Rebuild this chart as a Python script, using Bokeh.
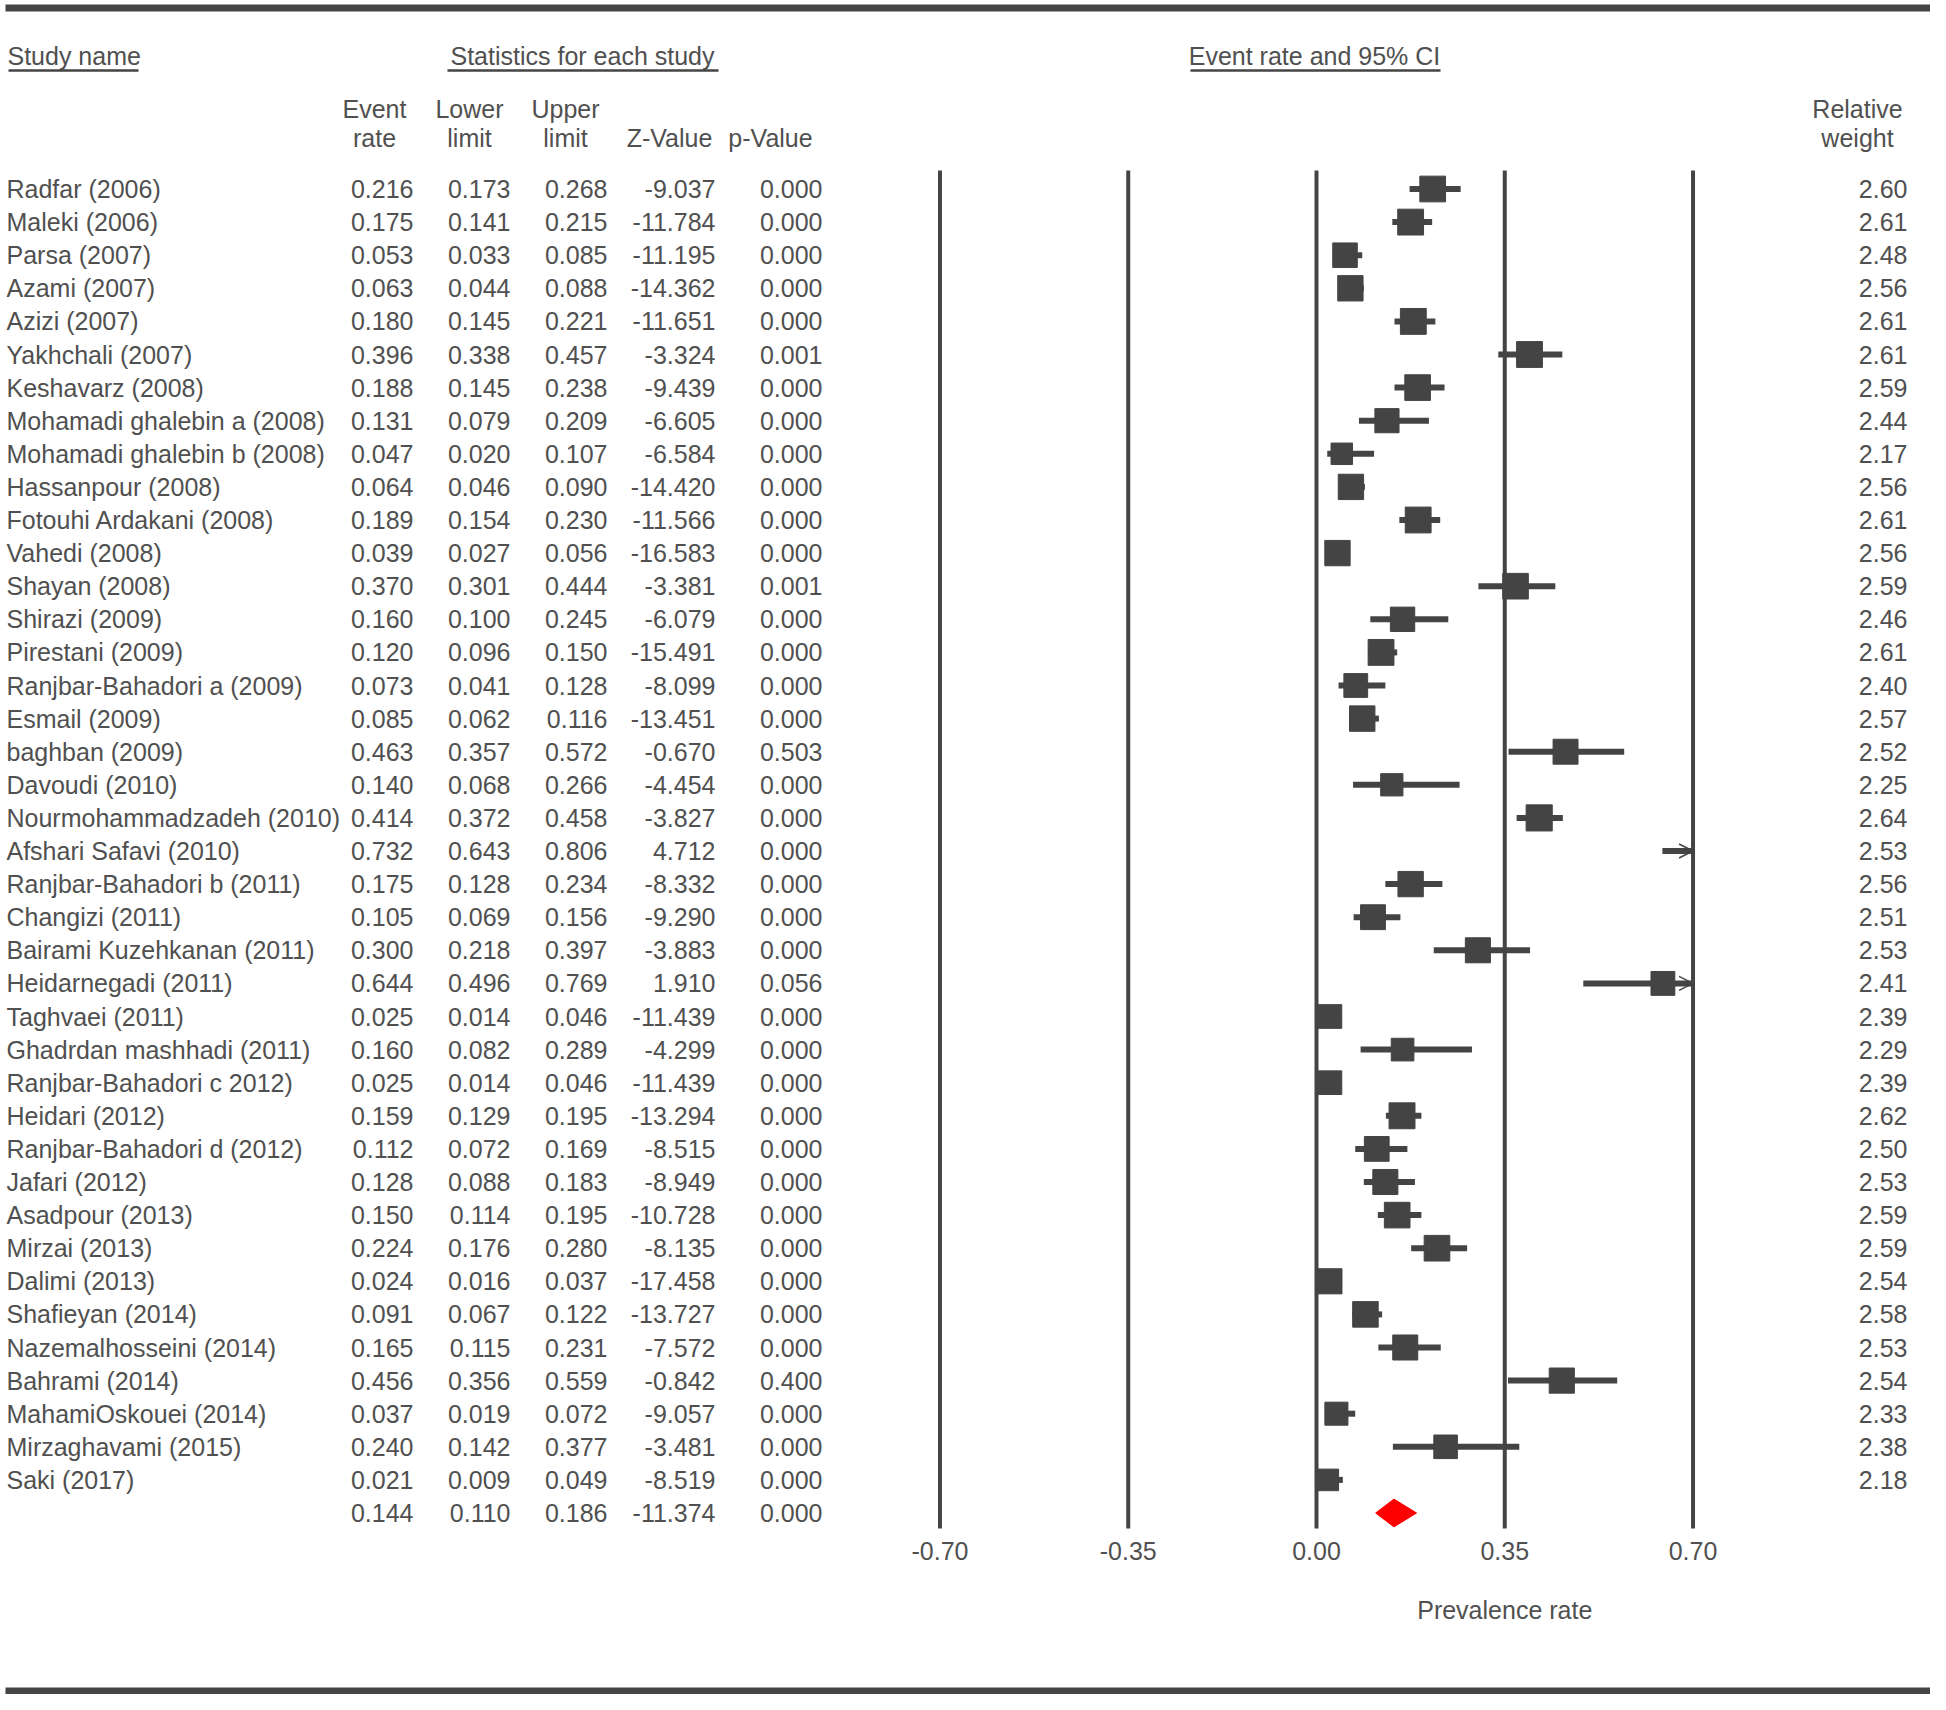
from bokeh.plotting import figure
from bokeh.models import Range1d, ColumnDataSource, Arrow, OpenHead
from bokeh.embed import file_html
from bokeh.resources import INLINE
from bokeh.core.properties import value

# ---------------- data ----------------
study_names = [
    "Radfar (2006)", "Maleki (2006)", "Parsa (2007)", "Azami (2007)", "Azizi (2007)",
    "Yakhchali (2007)", "Keshavarz (2008)", "Mohamadi ghalebin a (2008)",
    "Mohamadi ghalebin b (2008)", "Hassanpour (2008)", "Fotouhi Ardakani (2008)",
    "Vahedi (2008)", "Shayan (2008)", "Shirazi (2009)", "Pirestani (2009)",
    "Ranjbar-Bahadori a (2009)", "Esmail (2009)", "baghban (2009)", "Davoudi (2010)",
    "Nourmohammadzadeh (2010)", "Afshari Safavi (2010)", "Ranjbar-Bahadori b (2011)",
    "Changizi (2011)", "Bairami Kuzehkanan (2011)", "Heidarnegadi (2011)",
    "Taghvaei (2011)", "Ghadrdan mashhadi (2011)", "Ranjbar-Bahadori c 2012)",
    "Heidari (2012)", "Ranjbar-Bahadori d (2012)", "Jafari (2012)", "Asadpour (2013)",
    "Mirzai (2013)", "Dalimi (2013)", "Shafieyan (2014)", "Nazemalhosseini (2014)",
    "Bahrami (2014)", "MahamiOskouei (2014)", "Mirzaghavami (2015)", "Saki (2017)",
]
event_rate = [0.216, 0.175, 0.053, 0.063, 0.180, 0.396, 0.188, 0.131, 0.047, 0.064,
              0.189, 0.039, 0.370, 0.160, 0.120, 0.073, 0.085, 0.463, 0.140, 0.414,
              0.732, 0.175, 0.105, 0.300, 0.644, 0.025, 0.160, 0.025, 0.159, 0.112,
              0.128, 0.150, 0.224, 0.024, 0.091, 0.165, 0.456, 0.037, 0.240, 0.021]
lower_limit = [0.173, 0.141, 0.033, 0.044, 0.145, 0.338, 0.145, 0.079, 0.020, 0.046,
               0.154, 0.027, 0.301, 0.100, 0.096, 0.041, 0.062, 0.357, 0.068, 0.372,
               0.643, 0.128, 0.069, 0.218, 0.496, 0.014, 0.082, 0.014, 0.129, 0.072,
               0.088, 0.114, 0.176, 0.016, 0.067, 0.115, 0.356, 0.019, 0.142, 0.009]
upper_limit = [0.268, 0.215, 0.085, 0.088, 0.221, 0.457, 0.238, 0.209, 0.107, 0.090,
               0.230, 0.056, 0.444, 0.245, 0.150, 0.128, 0.116, 0.572, 0.266, 0.458,
               0.806, 0.234, 0.156, 0.397, 0.769, 0.046, 0.289, 0.046, 0.195, 0.169,
               0.183, 0.195, 0.280, 0.037, 0.122, 0.231, 0.559, 0.072, 0.377, 0.049]
z_value = [-9.037, -11.784, -11.195, -14.362, -11.651, -3.324, -9.439, -6.605, -6.584, -14.420,
           -11.566, -16.583, -3.381, -6.079, -15.491, -8.099, -13.451, -0.670, -4.454, -3.827,
           4.712, -8.332, -9.290, -3.883, 1.910, -11.439, -4.299, -11.439, -13.294, -8.515,
           -8.949, -10.728, -8.135, -17.458, -13.727, -7.572, -0.842, -9.057, -3.481, -8.519]
p_value = [0.000, 0.000, 0.000, 0.000, 0.000, 0.001, 0.000, 0.000, 0.000, 0.000,
           0.000, 0.000, 0.001, 0.000, 0.000, 0.000, 0.000, 0.503, 0.000, 0.000,
           0.000, 0.000, 0.000, 0.000, 0.056, 0.000, 0.000, 0.000, 0.000, 0.000,
           0.000, 0.000, 0.000, 0.000, 0.000, 0.000, 0.400, 0.000, 0.000, 0.000]
relative_weight = [2.60, 2.61, 2.48, 2.56, 2.61, 2.61, 2.59, 2.44, 2.17, 2.56,
                   2.61, 2.56, 2.59, 2.46, 2.61, 2.40, 2.57, 2.52, 2.25, 2.64,
                   2.53, 2.56, 2.51, 2.53, 2.41, 2.39, 2.29, 2.39, 2.62, 2.50,
                   2.53, 2.59, 2.59, 2.54, 2.58, 2.53, 2.54, 2.33, 2.38, 2.18]
summary = {"event": 0.144, "lower": 0.110, "upper": 0.186, "z": -11.374, "p": 0.000}
tick_values = [-0.70, -0.35, 0.00, 0.35, 0.70]
tick_labels = ["-0.70", "-0.35", "0.00", "0.35", "0.70"]

# ---------------- layout helpers (image pixels -> data units) ----------------
PX_PER_UNIT = 537.9
X_ZERO_PX = 1316.0
ROW0_PX = 188.5
ROW_H = 33.1
W, H = 1930, 1694


def fx(px):
    return (px - X_ZERO_PX) / PX_PER_UNIT


def fy(py):
    return (py - ROW0_PX) / ROW_H


FONT = value("Liberation Sans")
FS = "25px"
TXT = "#505050"
DARK = "#444444"
AX_MAX = tick_values[-1]

p = figure(width=W, height=H,
           x_range=Range1d(fx(0), fx(W)),
           y_range=Range1d(fy(H), fy(0)),
           x_axis_type=None, y_axis_type=None,
           output_backend="svg", toolbar_location=None, min_border=0)
p.outline_line_color = None
p.background_fill_color = "white"
p.border_fill_color = "white"

n = len(study_names)
rows = list(range(n))
sum_row = n

# frame lines top/bottom
p.segment(x0=[fx(5), fx(5)], y0=[fy(7.5), fy(1690.5)], x1=[fx(W), fx(W)], y1=[fy(7.5), fy(1690.5)],
          line_width=7, line_color=DARK)

# vertical reference lines at the ticks
p.segment(x0=tick_values, y0=[fy(170)] * len(tick_values), x1=tick_values,
          y1=[fy(1528)] * len(tick_values), line_width=4, line_color=DARK)

# confidence intervals (clipped at axis max)
ci_hi = [min(u, AX_MAX) for u in upper_limit]
p.segment(x0=lower_limit, y0=rows, x1=ci_hi, y1=rows, line_width=6, line_color=DARK)

# squares sized by weight
sq_x = [e for e in event_rate if e <= AX_MAX]
sq_y = [r for r, e in zip(rows, event_rate) if e <= AX_MAX]
sq_s = [w * 9.9 for w, e in zip(relative_weight, event_rate) if e <= AX_MAX]
p.scatter(x=sq_x, y=sq_y, size=sq_s, marker="square", fill_color=DARK, line_color=DARK)

# arrows for CIs extending past the axis
arr_src = ColumnDataSource(dict(
    x0=[l for l, u in zip(lower_limit, upper_limit) if u > AX_MAX],
    x1=[AX_MAX for u in upper_limit if u > AX_MAX],
    y=[r for r, u in zip(rows, upper_limit) if u > AX_MAX]))
p.add_layout(Arrow(end=OpenHead(size=14, line_width=1.5, line_color=DARK),
                   x_start="x0", y_start="y", x_end="x1", y_end="y",
                   source=arr_src, line_alpha=0))

# summary diamond
hh = 0.42
p.patch(x=[summary["lower"], summary["event"], summary["upper"], summary["event"]],
        y=[sum_row, sum_row - hh, sum_row, sum_row + hh],
        fill_color="#ff0000", line_color="#ff0000")


def txt(xs, ys, texts, align="left", size=FS):
    p.text(x=xs, y=ys, text=texts, text_font=FONT, text_font_size=size,
           text_color=TXT, text_align=align, text_baseline="middle")


# table body
txt([fx(6)] * n, rows, study_names, "left")
col_right = [413, 510, 607, 715, 822]
cols = [
    [f"{v:.3f}" for v in event_rate] + [f"{summary['event']:.3f}"],
    [f"{v:.3f}" for v in lower_limit] + [f"{summary['lower']:.3f}"],
    [f"{v:.3f}" for v in upper_limit] + [f"{summary['upper']:.3f}"],
    [f"{v:.3f}" for v in z_value] + [f"{summary['z']:.3f}"],
    [f"{v:.3f}" for v in p_value] + [f"{summary['p']:.3f}"],
]
for cx, vals in zip(col_right, cols):
    txt([fx(cx)] * (n + 1), rows + [sum_row], vals, "right")
txt([fx(1907)] * n, rows, [f"{w:.2f}" for w in relative_weight], "right")

# headers
txt([fx(7)], [fy(55)], ["Study name"], "left")
txt([fx(582)], [fy(55)], ["Statistics for each study"], "center")
txt([fx(1314)], [fy(55)], ["Event rate and 95% CI"], "center")
p.segment(x0=[fx(8), fx(447), fx(1190)], y0=[fy(70)] * 3,
          x1=[fx(138), fx(718), fx(1440)], y1=[fy(70)] * 3,
          line_width=2.5, line_color=DARK)
hdr_x = [374, 469, 565, 1857]
txt([fx(x) for x in hdr_x], [fy(108)] * 4, ["Event", "Lower", "Upper", "Relative"], "center")
hdr2_x = [374, 469, 565, 669, 770, 1857]
txt([fx(x) for x in hdr2_x], [fy(137)] * 6,
    ["rate", "limit", "limit", "Z-Value", "p-Value", "weight"], "center")

# tick labels and axis title
txt(tick_values, [fy(1550)] * len(tick_values), tick_labels, "center")
txt([tick_values[3]], [fy(1609)], ["Prevalence rate"], "center")

open("out.html", "w").write(file_html(p, INLINE))
